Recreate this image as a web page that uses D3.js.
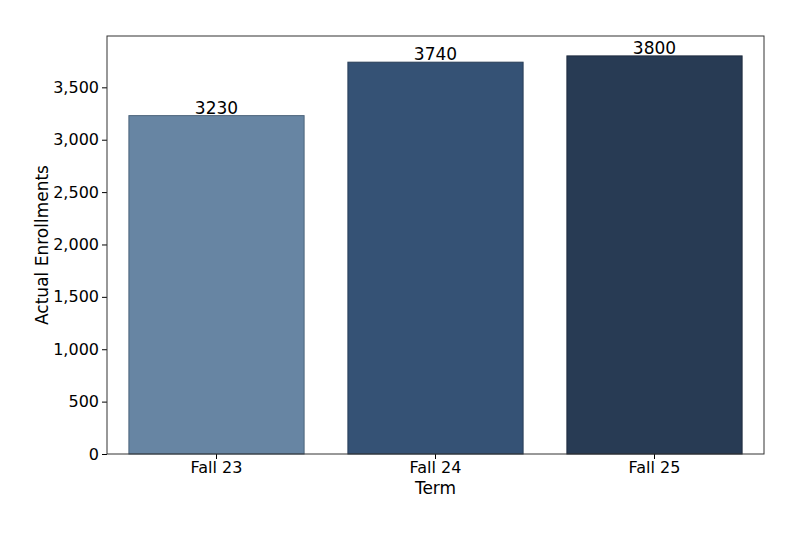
<!DOCTYPE html>
<html><head><meta charset="utf-8">
<script src="https://cdn.jsdelivr.net/npm/d3@7"></script>
<style>body{margin:0;background:#fff}text{font-family:"DejaVu Sans",sans-serif}</style>
</head><body><svg id="c" width="800" height="533"></svg>
<script>
const categories = ["Fall 23","Fall 24","Fall 25"];
const values = [3230,3740,3800];
const colors = ["#6785a3","#355275","#283b54"];
const yTicks = [0,500,1000,1500,2000,2500,3000,3500];

const m = {l:107, r:764, t:36, b:454};
const svg = d3.select("#c");
const x = d3.scaleBand().domain(categories).range([m.l,m.r]).paddingInner(0.2).paddingOuter(0.1);
const y = d3.scaleLinear().domain([0,3990]).range([m.b,m.t]);

svg.selectAll("rect.bar").data(values).join("rect")
  .attr("x",(d,i)=>x(categories[i])).attr("width",x.bandwidth())
  .attr("y",d=>y(d)).attr("height",d=>y(0)-y(d))
  .attr("fill",(d,i)=>colors[i]).attr("stroke",(d,i)=>d3.color(colors[i]).darker(0.8)).attr("stroke-width",1);

svg.selectAll("text.val").data(values).join("text")
  .attr("x",(d,i)=>x(categories[i])+x.bandwidth()/2).attr("y",d=>y(d)-2)
  .attr("text-anchor","middle").attr("font-size",17).text(d=>d);

const ya = svg.append("g").attr("transform",`translate(${m.l},0)`).call(d3.axisLeft(y).tickValues(yTicks).tickSize(5).tickSizeOuter(0));
ya.selectAll("text").attr("font-size",16).attr("fill","#000");
const xa = svg.append("g").attr("transform",`translate(0,${m.b})`).call(d3.axisBottom(x).tickSize(5).tickSizeOuter(0));
xa.selectAll("text").attr("font-size",16).attr("fill","#000");
svg.selectAll(".domain").remove();
svg.append("rect").attr("x",m.l).attr("y",m.t).attr("width",m.r-m.l).attr("height",m.b-m.t)
  .attr("fill","none").attr("stroke","#333").attr("stroke-width",1);

svg.append("text").attr("x",(m.l+m.r)/2).attr("y",494).attr("text-anchor","middle").attr("font-size",17).text("Term");
svg.append("text").attr("transform",`translate(48,${(m.t+m.b)/2}) rotate(-90)`).attr("text-anchor","middle").attr("font-size",17).text("Actual Enrollments");
</script></body></html>
